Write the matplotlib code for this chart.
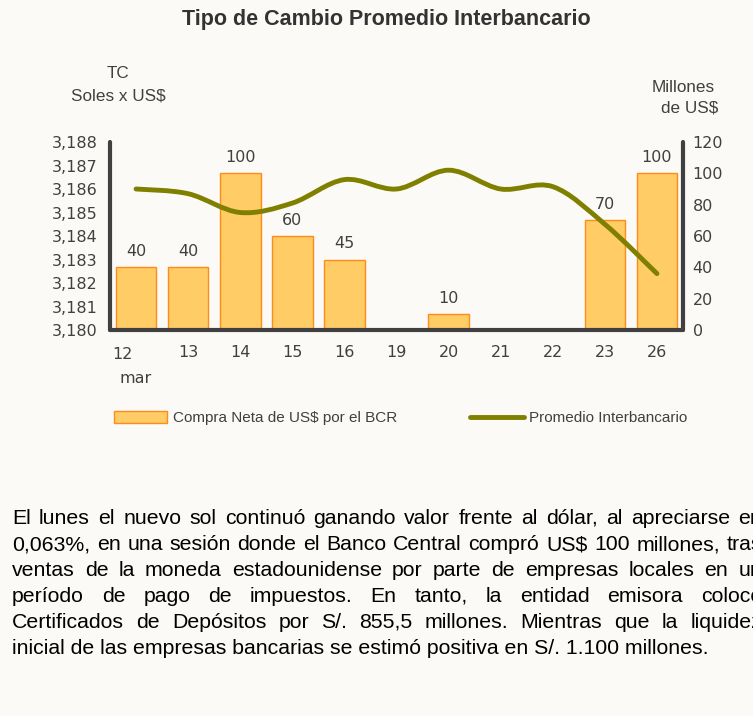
import numpy as np
import matplotlib.pyplot as plt
from matplotlib.path import Path
from matplotlib.patches import PathPatch, Patch
from matplotlib.lines import Line2D
from matplotlib import font_manager as fm

# Datos
dias = ['12', '13', '14', '15', '16', '19', '20', '21', '22', '23', '26']
compra_neta = [40, 40, 100, 60, 45, 0, 10, 0, 0, 70, 100]
tc_promedio = [3.1860, 3.1858, 3.1850, 3.1854, 3.1864, 3.1860, 3.1868, 3.1860, 3.1861, 3.1845, 3.1824]

ticks_tc = [3.180, 3.181, 3.182, 3.183, 3.184, 3.185, 3.186, 3.187, 3.188]
ticks_mill = [0, 20, 40, 60, 80, 100, 120]

parrafo = [
    "El lunes el nuevo sol continuó ganando valor frente al dólar, al apreciarse en",
    "0,063%, en una sesión donde el Banco Central compró US$ 100 millones, tras",
    "ventas de la moneda estadounidense por parte de empresas locales en un",
    "período de pago de impuestos. En tanto, la entidad emisora colocó",
    "Certificados de Depósitos por S/. 855,5 millones. Mientras que la liquidez",
    "inicial de las empresas bancarias se estimó positiva en S/. 1.100 millones.",
]

nombres = {f.name for f in fm.fontManager.ttflist}
narrow = 'Liberation Sans Narrow' if 'Liberation Sans Narrow' in nombres else 'Liberation Sans'

bg = '#fbfaf6'
gris = '#404040'
W, H = 753, 716
fs = 11.5

fig = plt.figure(figsize=(W / 100, H / 100), dpi=100, facecolor=bg)
ax = fig.add_axes([110 / W, 1 - 330 / H, 573 / W, 188 / H])
ax.set_facecolor(bg)

x = np.arange(len(dias))
ax.bar(x, compra_neta, width=0.78, color='#ffcc66', edgecolor='#ff8c1a', linewidth=1.0, zorder=2)
for xi, v in zip(x, compra_neta):
    if v > 0:
        ax.annotate(str(v), (xi, v), xytext=(0, 6), textcoords='offset points',
                    ha='center', va='bottom', fontsize=fs, color=gris)

ax.set_xlim(-0.5, len(dias) - 0.5)
ax.set_ylim(0, 120)
ax.set_xticks(x)
ax.set_xticklabels([''] + dias[1:])
ax.tick_params(axis='x', length=0, pad=11, labelsize=fs, labelcolor=gris)
ax.annotate('12', (0, 0), xycoords=('data', 'axes fraction'), xytext=(-10, -12),
            textcoords='offset points', ha='center', va='top', fontsize=fs, color=gris)
ax.annotate('mar', (0, 0), xycoords=('data', 'axes fraction'), xytext=(0, -29.5),
            textcoords='offset points', ha='center', va='top', fontsize=fs, color=gris)

# Eje del tipo de cambio
ax2 = ax.twinx()
ax2.set_ylim(3.180, 3.188)
ax2.yaxis.tick_left()
ax2.set_yticks(ticks_tc)
ax2.set_yticklabels([f'{t:.3f}'.replace('.', ',') for t in ticks_tc])
ax2.tick_params(axis='y', length=0, pad=9, labelsize=fs, labelcolor=gris)

# eje de millones a la derecha (después de twinx)
ax.yaxis.tick_right()
ax.set_yticks(ticks_mill)
ax.tick_params(axis='y', length=0, pad=7, labelsize=fs, labelcolor=gris)

for s in ['top', 'left']:
    ax.spines[s].set_visible(False)
for s in ['bottom', 'right']:
    ax.spines[s].set_linewidth(3)
    ax.spines[s].set_color(gris)
    ax.spines[s].set_capstyle('round')
for s in ['top', 'right', 'bottom']:
    ax2.spines[s].set_visible(False)
ax2.spines['left'].set_linewidth(3)
ax2.spines['left'].set_color(gris)
ax2.spines['left'].set_capstyle('round')

# Línea suavizada (bezier tipo Excel)
pts = np.column_stack([x, tc_promedio])
verts = [pts[0]]
codes = [Path.MOVETO]
for i in range(len(pts) - 1):
    p0 = pts[i - 1] if i > 0 else pts[i]
    p1, p2 = pts[i], pts[i + 1]
    p3 = pts[i + 2] if i + 2 < len(pts) else pts[i + 1]
    verts += [p1 + (p2 - p0) / 6, p2 - (p3 - p1) / 6, p2]
    codes += [Path.CURVE4] * 3
ax2.add_patch(PathPatch(Path(verts, codes), fill=False, edgecolor='#808000',
                        linewidth=3.5, capstyle='round', joinstyle='round', zorder=3))

fig.text(386 / W, 1 - 20 / H, 'Tipo de Cambio Promedio Interbancario', ha='center', va='center',
         fontsize=15.5, fontweight='bold', color='#333333', family=narrow)
fig.text(118 / W, 1 - 74 / H, 'TC', ha='center', va='center', fontsize=12.3, color=gris, family=narrow)
fig.text(118 / W, 1 - 96 / H, 'Soles x US$', ha='center', va='center', fontsize=12.3, color=gris, family=narrow)
fig.text(683 / W, 1 - 87 / H, 'Millones', ha='center', va='center', fontsize=12.3, color=gris, family=narrow)
fig.text(690 / W, 1 - 108 / H, 'de US$', ha='center', va='center', fontsize=12.3, color=gris, family=narrow)

# Leyenda
h1 = Patch(facecolor='#ffcc66', edgecolor='#ff8c1a', linewidth=1)
h2 = Line2D([], [], color='#808000', linewidth=3.5, solid_capstyle='round')
fig.legend([h1, h2], ['Compra Neta de US$ por el BCR', 'Promedio Interbancario'],
           loc='center left', bbox_to_anchor=(100 / W, 1 - 418 / H), ncol=2, frameon=False,
           prop={'family': narrow, 'size': 11}, handlelength=3.5, handleheight=0.9,
           handletextpad=0.35, columnspacing=4.8, labelcolor=gris)

# Párrafo justificado
r = fig.canvas.get_renderer()
fp = 15.3
x0, x1 = 12, 762
ys = [518, 545, 571, 597, 622, 648]
for k, (linea, y) in enumerate(zip(parrafo, ys)):
    if k == len(parrafo) - 1:
        fig.text(x0 / W, 1 - y / H, linea, ha='left', va='center', fontsize=fp,
                 family='Liberation Sans', color='black')
        continue
    palabras = linea.split(' ')
    objs = [fig.text(0, 1 - y / H, p, ha='left', va='center', fontsize=fp,
                     family='Liberation Sans', color='black') for p in palabras]
    anchos = [o.get_window_extent(r).width for o in objs]
    esp = (x1 - x0 - sum(anchos)) / (len(palabras) - 1)
    pos = x0
    for o, a in zip(objs, anchos):
        o.set_x(pos / W)
        pos += a + esp

fig.savefig('out.png', dpi=100, facecolor=bg)
